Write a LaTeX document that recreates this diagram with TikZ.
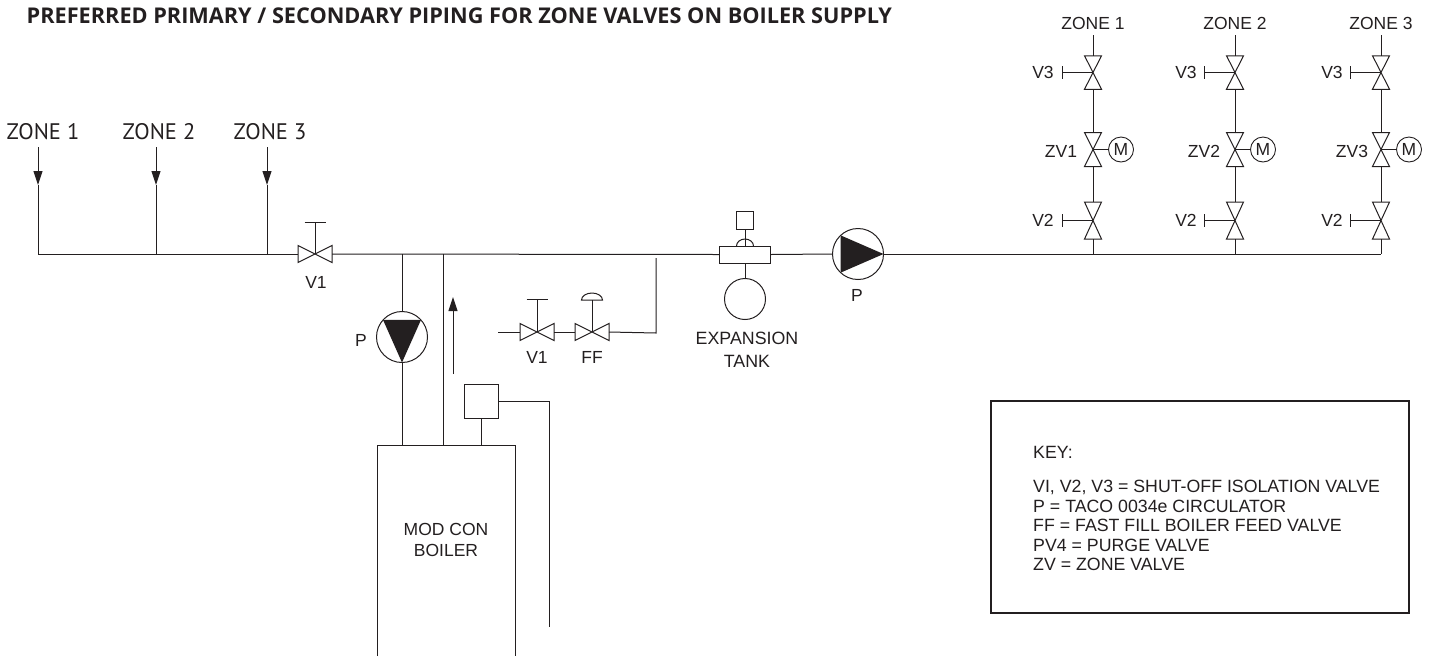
\documentclass[tikz,border=0pt]{standalone}
\usepackage{fontspec}
\setmainfont{Liberation Sans}
\newfontfamily\myriadlike{PT Sans}
\newfontfamily\titlefont{Open Sans}
\usetikzlibrary{arrows.meta}
\definecolor{ink}{HTML}{231F20}
\tikzset{
	pipe/.style = {draw = ink, line width = 1pt},
	valvebox/.style = {inner sep = 0, outer sep = 0},
	pumpring/.style = {circle, draw = ink, line width = 1pt, inner sep = 0, outer sep = 0, minimum size = 51},
	label/.style = {text = ink, inner sep = 0, font = \fontsize{17.5}{19}\selectfont},
	bigzone/.style = {text = ink, inner sep = 0, font = \myriadlike\fontsize{22.5}{24}\selectfont},
	flowtip/.style = {-{Triangle[length = 14pt, width = 9pt]}}
}
% valve with its ports left and right
\newcommand{\valveh}[2]{
	\node[valvebox, minimum width = 34, minimum height = 17] (#1) at (#2) {};
	\draw[pipe] (#1.north west) -- (#1.south east) -- (#1.north east) -- (#1.south west) -- cycle;
}
% valve with its ports up and down
\newcommand{\valvev}[3]{
	\node[valvebox, minimum width = 17, minimum height = #3] (#1) at (#2) {};
	\draw[pipe] (#1.north west) -- (#1.north east) -- (#1.south west) -- (#1.south east) -- cycle;
}
\begin{document}
\begin{tikzpicture}[x = 1pt, y = -1pt]

	\useasboundingbox (0,0) rectangle (1434,657);

	\node[anchor = west, text = ink, inner sep = 0, font = \titlefont\bfseries\fontsize{21.7}{24}\selectfont] (title) at (26.5,16) {PREFERRED PRIMARY / SECONDARY PIPING FOR ZONE VALVES ON BOILER SUPPLY};

	% zones on the left
	\foreach \n/\x/\lx in {1/38/43, 2/156/159, 3/267/270}{
		\node[bigzone] (lz\n) at (\lx,132) {ZONE \n};
		\coordinate (lt\n) at (\x,147);
		\coordinate (lm\n) at (\x,185);
		\coordinate (lj\n) at (\x,254);
		\draw[pipe, flowtip] (lt\n) -- (lm\n);
		\draw[pipe] (lm\n) -- (lj\n);
	}
	\draw[pipe] (lj1) -- (lj3);

	% isolation valve on the main
	\valveh{vmain}{315,254}
	\draw[pipe] (lj3) -- (vmain.west);
	\coordinate (vmaintop) at (315,222);
	\draw[pipe] (vmain.center) -- (vmaintop);
	\draw[pipe] ([xshift = -10.5]vmaintop) -- ([xshift = 10.5]vmaintop);
	\node[label] (vmainl) at (316,282) {V1};

	% expansion tank
	\node[draw = ink, line width = 1pt, inner sep = 0, outer sep = 0, minimum width = 51, minimum height = 17] (tankbox) at (745,254.5) {};
	\node[circle, draw = ink, line width = 1pt, inner sep = 0, outer sep = 0, minimum size = 41] (tank) at (745,299) {};
	\node[draw = ink, line width = 1pt, inner sep = 0, outer sep = 0, minimum size = 17.5] (vent) at (745,220.5) {};
	\draw[pipe] (tankbox.south) -- (tank.north);
	\draw[pipe] (vent.south) -- (tankbox.north);
	\draw[pipe] (736.5,246) arc[start angle = 180, end angle = 0, x radius = 8.5pt, y radius = 7pt];
	\node[label, align = center, font = \fontsize{17.8}{23}\selectfont] (tankl) at (747,349.5) {EXPANSION\\TANK};

	\draw[pipe] (vmain.east) -- (tankbox.west);

	% circulator on the main
	\node[pumpring] (pumpb) at (858,254) {};
	\fill[ink] (pumpb.133) -- (pumpb.-133) -- (pumpb.east) -- cycle;
	\draw[pipe] (tankbox.east) -- (pumpb.west);
	\node[label] (pumpbl) at (857,295) {P};

	% zone branches on the right
	\coordinate (rj0) at (1381,254);
	\draw[pipe] (pumpb.east) -- (rj0);
	\foreach \n/\x/\vx/\zx in {1/1093/1043/1061, 2/1235/1186/1204, 3/1381/1332/1352}{
		\node[label] (rz\n) at (\x,23) {ZONE \n};
		\coordinate (rt\n) at (\x,35);
		\coordinate (rj\n) at (\x,254);
		\valvev{vc\n}{\x,72.5}{33.5}
		\valvev{zv\n}{\x,149.5}{34}
		\valvev{vb\n}{\x,220.5}{37}
		\draw[pipe] (rt\n) -- (vc\n.north);
		\draw[pipe] (vc\n.south) -- (zv\n.north);
		\draw[pipe] (zv\n.south) -- (vb\n.north);
		\draw[pipe] (vb\n.south) -- (rj\n);
		\draw[pipe] (vc\n.center) -- ++(-30.5,0) coordinate (hc\n);
		\draw[pipe] ([yshift = 6.5]hc\n) -- ([yshift = -6.5]hc\n);
		\draw[pipe] (vb\n.center) -- ++(-30.5,0) coordinate (hb\n);
		\draw[pipe] ([yshift = 6.5]hb\n) -- ([yshift = -6.5]hb\n);
		\node[circle, draw = ink, line width = 0.9pt, inner sep = 0, outer sep = 0, minimum size = 25] (mot\n) at ([xshift = 28]zv\n.center) {};
		\node[label] at (mot\n) {M};
		\draw[pipe] (zv\n.center) -- (mot\n.west);
		\node[label] (vcl\n) at (\vx,72) {V3};
		\node[label] (zvl\n) at (\zx,151) {ZV\n};
		\node[label] (vbl\n) at (\vx,220) {V2};
	}

	% boiler
	\coordinate (bo1) at (377,656);
	\coordinate (bo2) at (515,656);
	\draw[pipe] (bo1) -- (377,445) -- (515,445) -- (bo2);
	\node[label, align = center, font = \fontsize{17.5}{21}\selectfont] (boilerl) at (446,540) {MOD CON\\BOILER};

	% primary loop
	\node[pumpring] (pumpa) at (402,337) {};
	\fill[ink] (pumpa.138) -- (pumpa.42) -- (pumpa.south) -- cycle;
	\node[label] (pumpal) at (361,340) {P};
	\draw[pipe] (402,254) -- (pumpa.north);
	\draw[pipe] (pumpa.south) -- (402,445);
	\draw[pipe] (443,254) -- (443,445);
	\coordinate (flowa) at (453,374);
	\coordinate (flowb) at (453,297);
	\draw[pipe, flowtip] (flowa) -- (flowb);

	% boiler control
	\node[draw = ink, line width = 1pt, inner sep = 0, outer sep = 0, minimum size = 34] (ctrl) at (481,401) {};
	\draw[pipe] (ctrl.south) -- (481,445);
	\coordinate (ctrlend) at (549,627);
	\draw[pipe] (ctrl.east) -| (ctrlend);

	% feed line
	\coordinate (feedin) at (498,332);
	\coordinate (feedtop) at (656,258);
	\valveh{vfeed}{537,332}
	\valveh{ff}{592,332}
	\draw[pipe] (feedin) -- (vfeed.west);
	\draw[pipe] (vfeed.east) -- (ff.west);
	\draw[pipe] (ff.east) -- (656,333) -- (feedtop);
	\coordinate (vfeedtop) at (537,299);
	\draw[pipe] (vfeed.center) -- (vfeedtop);
	\draw[pipe] ([xshift = -10.5]vfeedtop) -- ([xshift = 10.5]vfeedtop);
	\coordinate (fftop) at (592,300);
	\draw[pipe] (ff.center) -- (fftop);
	\draw[pipe] (581.5,300) arc[start angle = 180, end angle = 0, x radius = 10.5pt, y radius = 7pt] -- cycle;
	\node[label] (vfeedl) at (537,357) {V1};
	\node[label] (ffl) at (592,357) {FF};

	% key
	\node[draw = ink, line width = 2.5pt, inner sep = 0, outer sep = 0, minimum width = 418, minimum height = 212] (keybox) at (1200,507) {};
	\node[anchor = north west, text = ink, inner sep = 0, align = left, font = \fontsize{17.75}{19.5}\selectfont] (keytext) at (1033,446.5) {KEY:\\[14.5pt]
		VI, V2, V3 = SHUT-OFF ISOLATION VALVE\\
		P = TACO 0034e CIRCULATOR\\
		FF = FAST FILL BOILER FEED VALVE\\
		PV4 = PURGE VALVE\\
		ZV = ZONE VALVE};

\end{tikzpicture}
\end{document}
